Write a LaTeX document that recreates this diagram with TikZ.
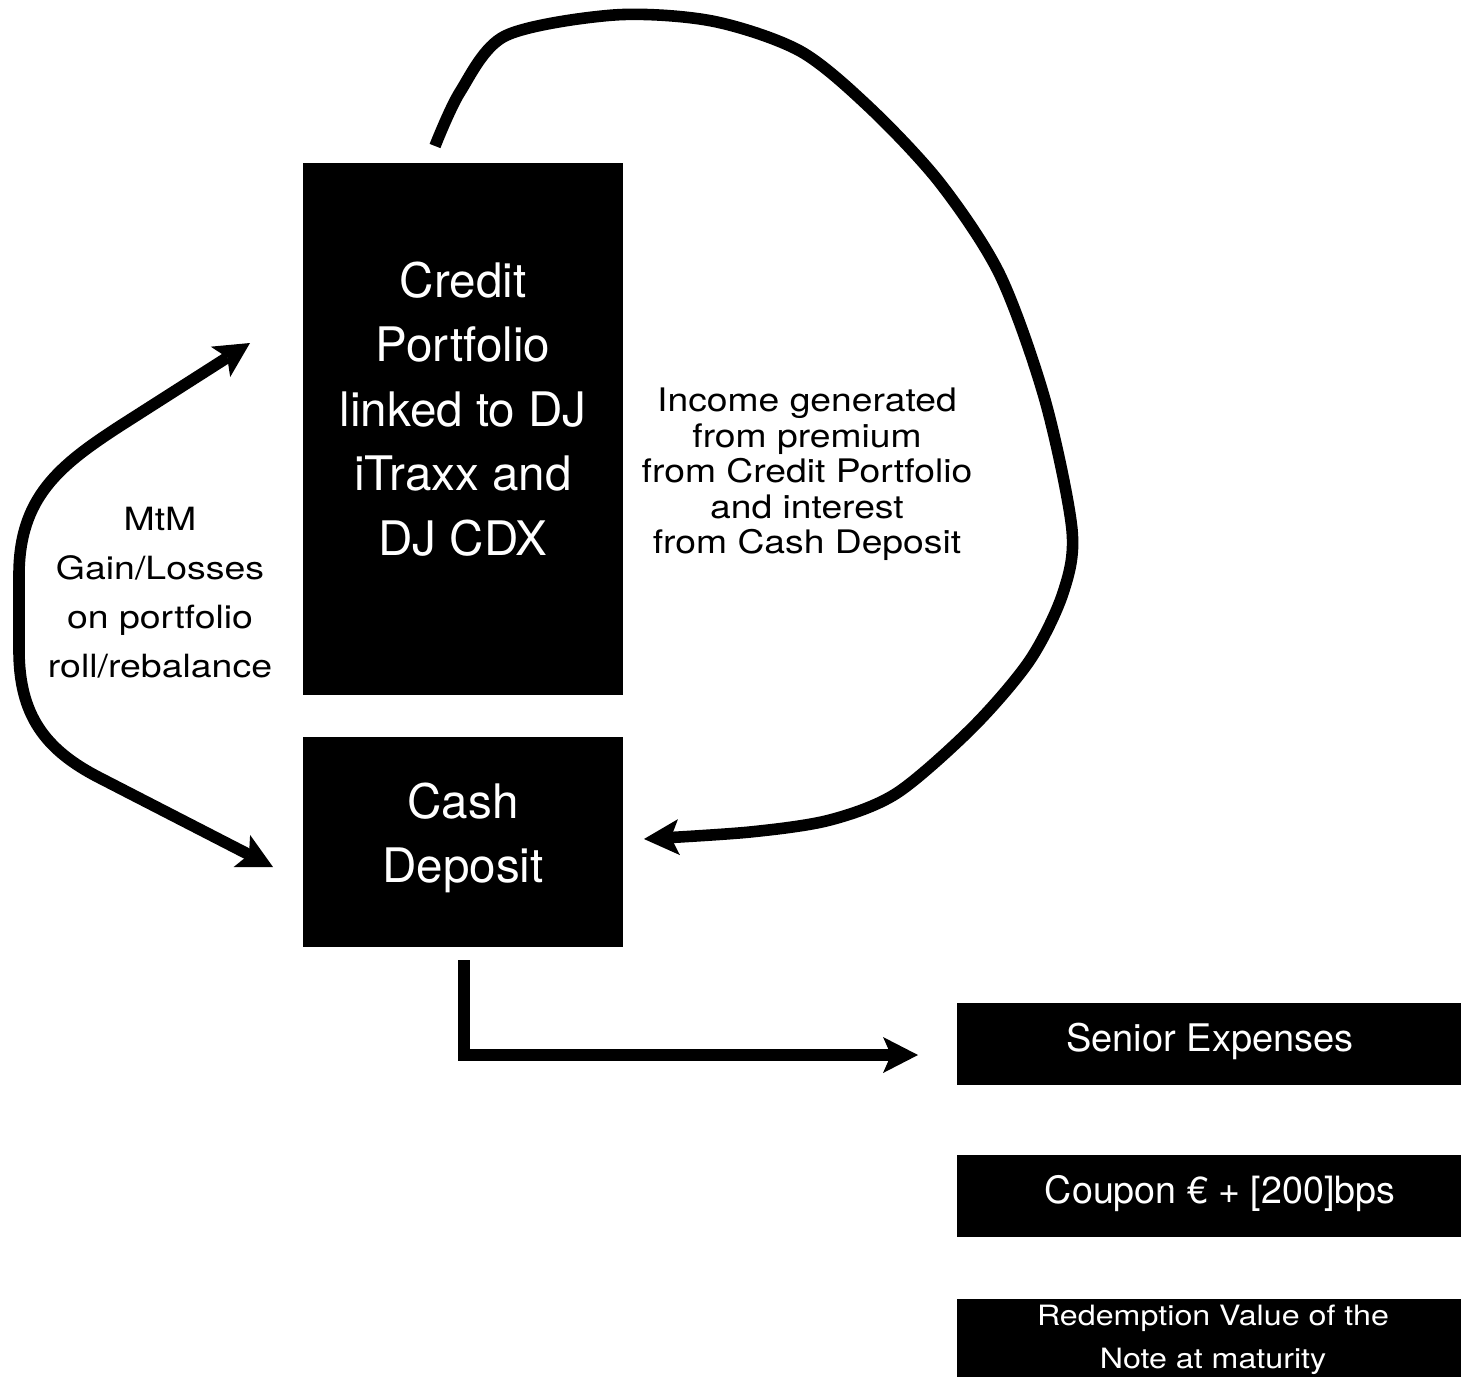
\documentclass[tikz,border=0pt]{standalone}
\usepackage{fontspec}
\setmainfont{TeX Gyre Heros}
\newfontfamily\stretchA[FakeStretch=1.15]{TeX Gyre Heros}
\newfontfamily\stretchB[FakeStretch=1.17]{TeX Gyre Heros}
\usetikzlibrary{arrows.meta,fit}
\begin{document}
\begin{tikzpicture}[x=0.5pt,y=-0.5pt,
  blk/.style={fill=black, draw=none, inner sep=0pt, outer sep=0pt},
  wtxt/.style={text=white, inner sep=0pt, align=center},
  btxt/.style={text=black, inner sep=0pt, align=center},
  conn/.style={line width=5.8pt, line join=miter},
  >={Stealth[length=17.5pt,width=18pt,inset=4pt,line width=0pt]}]
\useasboundingbox (0,0) rectangle (1461,1376);
% boxes
\node[blk, fit={(303,163) (623,695)}] (cp) {};
\node[blk, fit={(303,737) (623,947)}] (cd) {};
\node[blk, fit={(957,1003) (1475,1085)}] (se) {};
\node[blk, fit={(957,1155) (1475,1237)}] (co) {};
\node[blk, fit={(957,1299) (1475,1395)}] (rv) {};
% texts
\node[wtxt, font=\fontsize{23.8pt}{32.25pt}\selectfont] (cpt) at (463,409)
  {Credit\\Portfolio\\linked to DJ\\iTraxx and\\DJ CDX};
\node[wtxt, font=\fontsize{23.8pt}{32.25pt}\selectfont] (cdt) at (463,838)
  {Cash\\Deposit};
\node[btxt, font=\stretchA\fontsize{16.2pt}{17.7pt}\selectfont] (inc) at (807,474.5)
  {Income generated\\from premium\\from Credit Portfolio\\and interest\\from Cash Deposit};
\node[btxt, font=\stretchB\fontsize{16pt}{24.5pt}\selectfont] (mtm) at (160,593)
  {MtM\\Gain/Losses\\on portfolio\\roll/rebalance};
\node[wtxt, anchor=base, font=\fontsize{19pt}{22pt}\selectfont] (set) at (1210,1051)
  {Senior Expenses};
\node[wtxt, anchor=base, font=\fontsize{18.8pt}{22pt}\selectfont] (cot) at (1220,1203)
  {Coupon € + [200]bps};
\node[wtxt, font=\stretchA\fontsize{14pt}{21.5pt}\selectfont] (rvt) at (1213,1339.5)
  {Redemption Value of the\\Note at maturity};
% connector end points
\coordinate (mtmTop) at (250,343);
\coordinate (mtmBot) at (273,867);
\coordinate (bigS) at (435,146);
\coordinate (bigE) at (644,839);
\coordinate (lS) at (464,960);
\coordinate (lE) at (918,1055);
% MtM double arrow
\draw[conn,<->] (mtmTop) -- (120,426) .. controls (60,465) and (19,497) .. (19,575)
  -- (19,650) .. controls (19,715) and (45,750) .. (100,778) -- (mtmBot);
% income loop
\draw[conn,->] plot[smooth, tension=0.5] coordinates {(bigS) (460,92) (505,36)
  (614,15) (712,21) (800,51) (870,108) (940,183) (1000,275) (1045,400)
  (1072,530) (1063,593) (1030,660) (973,727) (897,793) (830,820) (750,832) (bigE)};
% to senior expenses
\draw[line width=6pt, line join=miter, ->] (lS) |- (lE);
\end{tikzpicture}
\end{document}
